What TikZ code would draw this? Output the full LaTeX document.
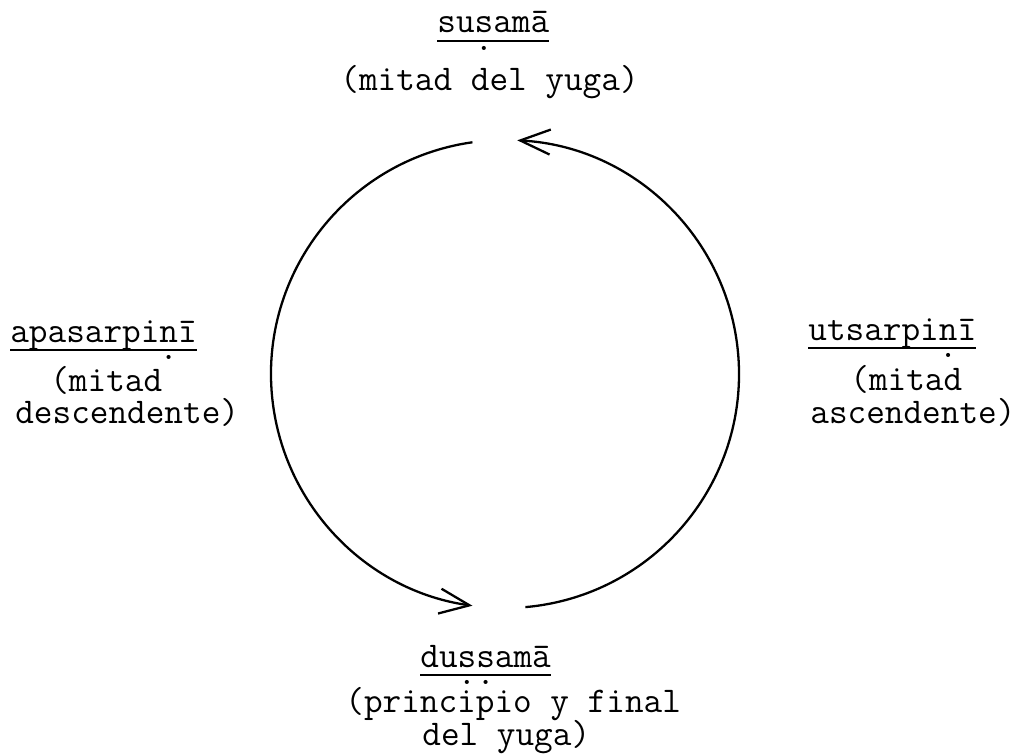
\documentclass[tikz,border=0pt]{standalone}
\usepackage{fontspec}
\setmonofont{Latin Modern Mono}
\usetikzlibrary{arrows.meta}

% underlined word, with the rule drawn a little under the baseline
\newcommand\ulword[1]{\setbox0=\hbox{#1}\rlap{\raisebox{-0.25em}{\rule{\wd0}{1.1pt}}}\box0}
% dot set under the underline
\newcommand\subdot[1]{\ooalign{#1\cr\hidewidth\smash{\raisebox{-0.47em}{.}}\hidewidth\cr}}

\begin{document}
\begin{tikzpicture}[
    font=\ttfamily\fontsize{20.6}{20.6}\selectfont,
    lbl/.style     ={inner sep=0pt, anchor=base west},
    cyclearc/.style={line width=1.3pt, -{Straight Barb[length=6mm, width=5mm, line width=1.3pt]}}
]
\useasboundingbox (0,0) rectangle (20.36,15.06);

% =================== Circle centre ===================
\coordinate (c) at (10.10,7.58);

% =================== Top ===================
\node[lbl] (top)    at (8.74,14.40) {\ulword{su\subdot{s}amā}};
\node[lbl] (topsub) at (6.80,13.24) {(mitad del yuga)};

% =================== Left ===================
\node[lbl] (left)   at (0.20,8.22) {\ulword{apasarpi\subdot{n}ī}};
\node[lbl] (leftsa) at (1.00,7.24) {(mitad};
\node[lbl] (leftsb) at (0.30,6.60) {descendente)};

% =================== Right ===================
\node[lbl] (right)   at (16.16,8.26) {\ulword{utsarpi\subdot{n}ī}};
\node[lbl] (rightsa) at (17.00,7.26) {(mitad};
\node[lbl] (rightsb) at (16.20,6.60) {ascendente)};

% =================== Bottom ===================
\node[lbl] (bot)    at (8.40,1.72) {\ulword{du\subdot{s}\subdot{s}amā}};
\node[lbl] (botsa)  at (6.90,0.82) {(principio y final};
\node[lbl] (botsb)  at (8.44,0.16) {del yuga)};

% --- Arcs ---

% descending half: top -> bottom on the left
\draw[cyclearc] (c) ++(98:4.68) arc[start angle=98, end angle=262, radius=4.68];

% ascending half: bottom -> top on the right
\draw[cyclearc] (c) ++(275:4.68) arc[start angle=275, end angle=447, radius=4.68];

\end{tikzpicture}
\end{document}
